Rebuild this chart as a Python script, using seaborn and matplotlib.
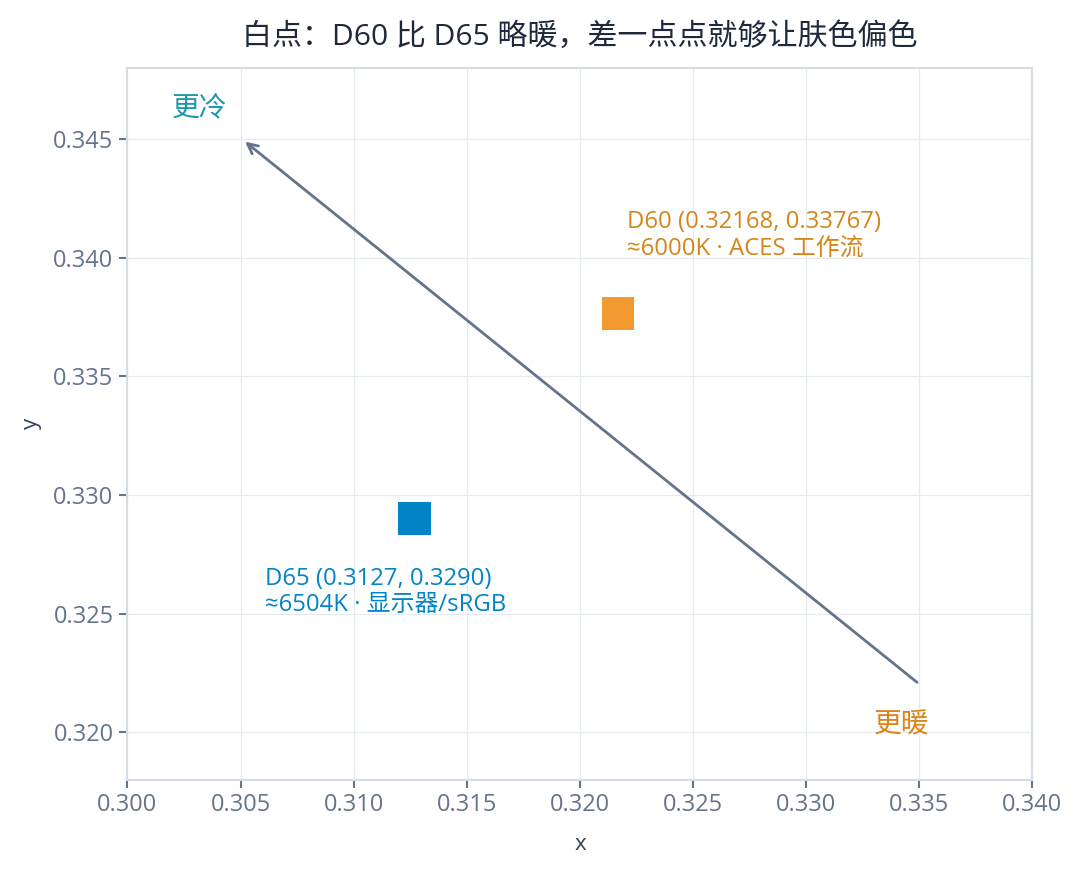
import matplotlib
matplotlib.use("Agg")
import matplotlib.pyplot as plt
import pandas as pd
import seaborn as sns

# white points (CIE xy)
names = ["D65", "D60"]
xs = [0.3127, 0.32168]
ys = [0.3290, 0.33767]
colors = ["#0284c7", "#f09a30"]
label_lines = [
    "D65 (0.3127, 0.3290)\n≈6504K · 显示器/sRGB",
    "D60 (0.32168, 0.33767)\n≈6000K · ACES 工作流",
]
label_pos = [(0.3061, 0.3259), (0.3221, 0.34095)]
label_colors = ["#0284c7", "#d4861a"]

arrow_start = (0.3349, 0.3221)
arrow_end = (0.3052, 0.3449)

sns.set_theme(style="white")
plt.rcParams["font.family"] = ["Open Sans", "Noto Sans CJK SC", "DejaVu Sans"]

df = pd.DataFrame({"x": xs, "y": ys, "name": names})

fig, ax = plt.subplots(figsize=(10.8, 8.74), dpi=100)
fig.subplots_adjust(left=0.118, right=0.956, top=0.922, bottom=0.108)

ax.grid(True, color="#e5e9f0", linewidth=0.9)
ax.set_axisbelow(True)

sns.scatterplot(data=df, x="x", y="y", hue="name", palette=colors, marker="s",
                s=560, edgecolor="none", legend=False, ax=ax, zorder=3)

ax.annotate("", xy=arrow_end, xytext=arrow_start,
            arrowprops=dict(arrowstyle="->", color="#64748b", lw=2,
                            shrinkA=0, shrinkB=0, mutation_scale=18))

for txt, (tx, ty), c in zip(label_lines, label_pos, label_colors):
    ax.text(tx, ty, txt, color=c, fontsize=17.2, va="center", ha="left", linespacing=1.1)

ax.text(0.3032, 0.3463, "更冷", color="#1c97b0", fontsize=20, ha="center", va="center")
ax.text(0.3342, 0.3203, "更暖", color="#dd8418", fontsize=20, ha="center", va="center")

ax.set_xlim(0.300, 0.340)
ax.set_ylim(0.318, 0.348)
ax.set_xticks([0.300, 0.305, 0.310, 0.315, 0.320, 0.325, 0.330, 0.335, 0.340])
ax.set_yticks([0.320, 0.325, 0.330, 0.335, 0.340, 0.345])
ax.xaxis.set_major_formatter(matplotlib.ticker.FormatStrFormatter("%.3f"))
ax.yaxis.set_major_formatter(matplotlib.ticker.FormatStrFormatter("%.3f"))
ax.tick_params(axis="both", colors="#64748b", labelcolor="#64748b", labelsize=17,
               length=6, width=1.5, bottom=True, left=True, pad=4)

for sp in ax.spines.values():
    sp.set_color("#d5dce6")
    sp.set_linewidth(1.5)

ax.set_xlabel("x", fontsize=16, color="#334155", labelpad=12)
ax.set_ylabel("y", fontsize=16, color="#334155", labelpad=8)
ax.set_title("白点：D60 比 D65 略暖，差一点点就够让肤色偏色", fontsize=21.6,
             color="#1e293b", pad=17)

fig.savefig("out.png", dpi=100, facecolor="white")
